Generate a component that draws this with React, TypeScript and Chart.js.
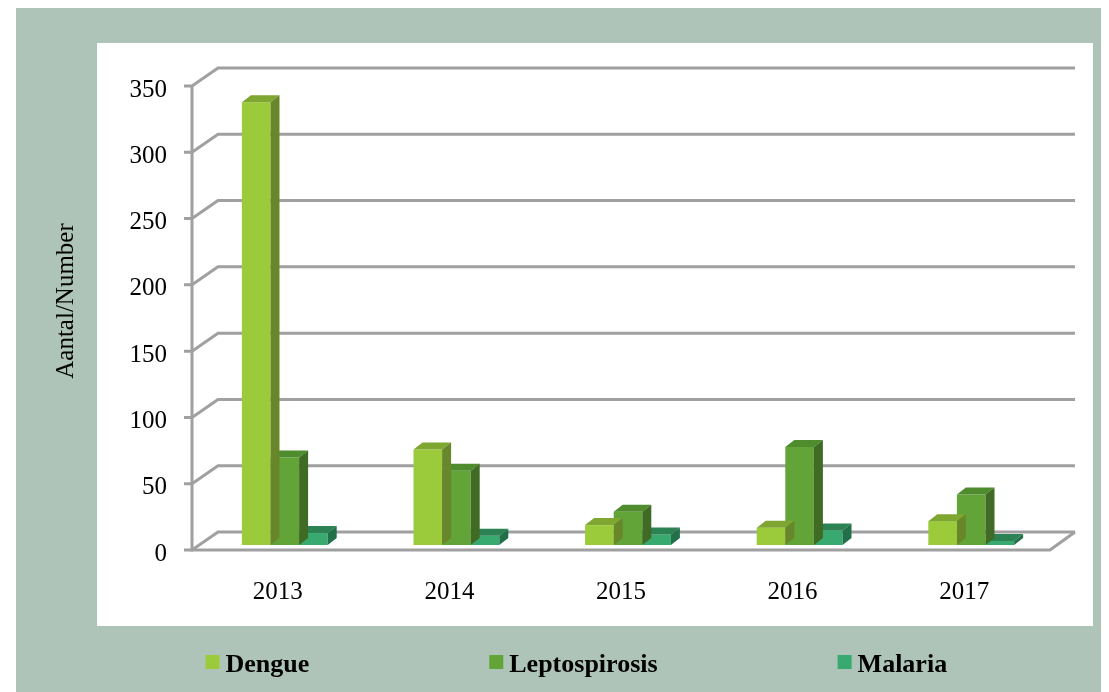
import { useEffect, useRef } from 'react';
import { Chart, registerables } from 'chart.js';

Chart.register(...registerables);

const years = ['2013', '2014', '2015', '2016', '2017'];
const dengue = [334, 72, 15, 13, 18];
const leptospirosis = [66, 56, 25, 74, 38];
const malaria = [9, 7, 8, 11, 3];
const seriesNames = ['Dengue', 'Leptospirosis', 'Malaria'];
const Y_MIN = 0;
const Y_MAX = 350;
const Y_STEP = 50;

const frontColors = ['#9bcb3b', '#62a437', '#38a96f'];
const topColors = ['#7ea631', '#4e8c2e', '#2c8253'];
const sideColors = ['#68872a', '#3f6b24', '#21704a'];

const SERIF = '"Liberation Serif", "Times New Roman", serif';
const GRID = '#a0a0a0';
const DEPTH_X = 9;
const DEPTH_Y = 7;
const FRONT_DX = -7;
const FRONT_DY = 5;
const BACK_DX = 19;
const BACK_DY = -13;

function tickValues(): number[] {
  const out: number[] = [];
  for (let v = Y_MIN; v <= Y_MAX; v += Y_STEP) out.push(v);
  return out;
}

const pseudo3d = {
  id: 'pseudo3d',
  beforeDraw(chart: any) {
    const ctx = chart.ctx;
    ctx.save();
    ctx.fillStyle = '#ffffff';
    ctx.fillRect(81, 35, 996, 583);
    ctx.restore();
  },
  beforeDatasetsDraw(chart: any) {
    const { ctx, chartArea } = chart;
    const y = chart.scales.y;
    const fl = chartArea.left + FRONT_DX;
    const fr = chartArea.right + FRONT_DX;
    const bl = chartArea.left + BACK_DX;
    const br = chartArea.right + BACK_DX - 1;
    ctx.save();
    ctx.strokeStyle = GRID;
    ctx.lineWidth = 3;
    ctx.lineJoin = 'miter';
    tickValues().forEach((v) => {
      const p = y.getPixelForValue(v);
      ctx.beginPath();
      ctx.moveTo(fl - 8, p + FRONT_DY);
      ctx.lineTo(fl, p + FRONT_DY);
      ctx.lineTo(bl, p + BACK_DY);
      ctx.lineTo(br, p + BACK_DY);
      ctx.stroke();
    });
    const p0 = y.getPixelForValue(Y_MIN);
    const pMax = y.getPixelForValue(Y_MAX);
    ctx.beginPath();
    ctx.moveTo(fl, pMax + FRONT_DY);
    ctx.lineTo(fl, p0 + FRONT_DY);
    ctx.lineTo(fr, p0 + FRONT_DY);
    ctx.lineTo(br, p0 + BACK_DY);
    ctx.stroke();
    ctx.restore();
  },
  afterDatasetDraw(chart: any, args: any) {
    const ctx = chart.ctx;
    const i = args.index;
    ctx.save();
    args.meta.data.forEach((bar: any) => {
      const { x, y, base, width } = bar.getProps(['x', 'y', 'base', 'width'], true);
      const l = x - width / 2;
      const r = x + width / 2;
      ctx.fillStyle = topColors[i];
      ctx.beginPath();
      ctx.moveTo(l, y);
      ctx.lineTo(r, y);
      ctx.lineTo(r + DEPTH_X, y - DEPTH_Y);
      ctx.lineTo(l + DEPTH_X, y - DEPTH_Y);
      ctx.closePath();
      ctx.fill();
      ctx.fillStyle = sideColors[i];
      ctx.beginPath();
      ctx.moveTo(r, y);
      ctx.lineTo(r + DEPTH_X, y - DEPTH_Y);
      ctx.lineTo(r + DEPTH_X, base - DEPTH_Y);
      ctx.lineTo(r, base);
      ctx.closePath();
      ctx.fill();
    });
    ctx.restore();
  },
  afterDraw(chart: any) {
    const { ctx, chartArea } = chart;
    const y = chart.scales.y;
    const x = chart.scales.x;
    ctx.save();
    ctx.fillStyle = '#000000';
    ctx.font = `25px ${SERIF}`;
    ctx.textBaseline = 'alphabetic';
    ctx.textAlign = 'right';
    tickValues().forEach((v) => {
      const p = y.getPixelForValue(v);
      ctx.fillText(String(v), chartArea.left - 32, p + FRONT_DY + 10.5);
    });
    ctx.textAlign = 'center';
    years.forEach((yr, idx) => {
      ctx.fillText(yr, x.getPixelForValue(idx) + FRONT_DX, 591);
    });
    ctx.save();
    ctx.translate(57, 293);
    ctx.rotate(-Math.PI / 2);
    ctx.textAlign = 'center';
    ctx.fillText('Aantal/Number', 0, 0);
    ctx.restore();
    ctx.font = `bold 26px ${SERIF}`;
    ctx.textAlign = 'left';
    let lx = 189.5;
    chart.data.datasets.forEach((ds: any) => {
      ctx.fillStyle = ds.backgroundColor;
      ctx.fillRect(lx, 647, 14, 14);
      ctx.fillStyle = '#000000';
      ctx.fillText(ds.label, lx + 20, 664);
      lx += 20 + ctx.measureText(ds.label).width + 180;
    });
    ctx.restore();
  },
};

export default function App() {
  const ref = useRef<HTMLCanvasElement | null>(null);
  useEffect(() => {
    if (!ref.current) return;
    const seriesValues = [dengue, leptospirosis, malaria];
    const chart = new Chart(ref.current, {
      type: 'bar',
      data: {
        labels: years,
        datasets: seriesNames.map((name, i) => ({
          label: name,
          data: seriesValues[i],
          backgroundColor: frontColors[i],
          borderWidth: 0,
          barPercentage: 1,
          categoryPercentage: 0.5,
        })),
      },
      options: {
        responsive: false,
        maintainAspectRatio: false,
        animation: false,
        layout: { padding: { left: 183, right: 52, top: 73, bottom: 147 } },
        plugins: {
          legend: { display: false },
          tooltip: { enabled: false },
        },
        scales: {
          x: { display: false },
          y: { display: false, min: Y_MIN, max: Y_MAX },
        },
      },
      plugins: [pseudo3d],
    });
    return () => chart.destroy();
  }, []);

  return (
    <div
      style={{
        marginLeft: 8,
        width: 1093,
        height: 684,
        background: '#aec4b8',
        position: 'relative',
      }}
    >
      <canvas ref={ref} width={1093} height={684} style={{ display: 'block' }} />
    </div>
  );
}
